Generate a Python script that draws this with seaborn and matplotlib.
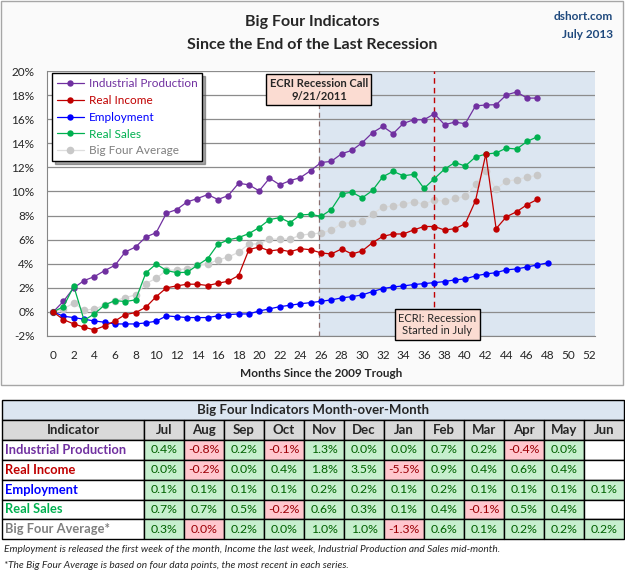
import numpy as np
import pandas as pd
import seaborn as sns
import matplotlib.pyplot as plt
from matplotlib.patches import Rectangle

# months since the June 2009 trough
months = list(range(49))

industrial = [0, 0.89, 2.0, 2.6, 2.93, 3.43, 3.87, 4.98, 5.39, 6.22, 6.58, 8.2, 8.5, 9.13, 9.41, 9.74,
              9.33, 9.66, 10.68, 10.55, 10.05, 11.1, 10.55, 10.9, 11.15, 11.73, 12.4, 12.5, 13.13, 13.41,
              14.05, 14.88, 15.4, 14.8, 15.65, 15.95, 15.95, 16.45, 15.54, 15.76, 15.62, 17.1, 17.18,
              17.2, 18.02, 18.26, 17.75, 17.75]
income = [0, -0.64, -1.0, -1.27, -1.49, -1.16, -0.75, -0.22, -0.06, 0.39, 1.27, 2.0, 2.16, 2.3, 2.3, 2.19,
          2.38, 2.55, 3.02, 5.17, 5.39, 5.06, 5.17, 5.0, 5.25, 5.16, 4.9, 4.81, 5.23, 4.81, 5.06, 5.75,
          6.27, 6.47, 6.47, 6.81, 7.09, 7.09, 6.8, 6.91, 7.32, 9.23, 13.1, 6.91, 7.9, 8.32, 8.9, 9.34]
employment = [0, -0.36, -0.47, -0.61, -0.75, -0.86, -1.0, -1.0, -1.0, -0.91, -0.77, -0.33, -0.4, -0.47,
              -0.47, -0.47, -0.33, -0.22, -0.17, -0.17, 0.08, 0.25, 0.44, 0.55, 0.68, 0.77, 0.88, 1.0,
              1.16, 1.27, 1.41, 1.69, 1.94, 2.07, 2.16, 2.27, 2.35, 2.43, 2.52, 2.66, 2.74, 2.99, 3.15,
              3.26, 3.49, 3.57, 3.73, 3.9, 4.07]
sales = [0, 0.44, 2.13, -0.69, -0.17, 0.58, 0.94, 0.86, 1.0, 3.24, 3.98, 3.43, 3.26, 3.29, 3.87, 4.43,
         5.62, 5.98, 6.17, 6.5, 7.0, 7.66, 7.83, 7.41, 8.05, 8.1, 7.93, 8.5, 9.8, 9.94, 9.47, 10.08,
         11.22, 11.67, 11.3, 11.42, 10.25, 11.06, 11.86, 12.4, 12.11, 12.86, 13.1, 13.2, 13.6, 13.52,
         14.15, 14.54]
average = [0, 0.25, 0.75, 0.13, 0.25, 0.55, 0.91, 1.19, 1.41, 2.35, 2.79, 3.46, 3.48, 3.6, 3.87, 3.98,
           4.31, 4.56, 4.95, 5.63, 5.65, 6.04, 6.04, 6.04, 6.37, 6.47, 6.55, 6.78, 7.33, 7.42, 7.53, 8.1,
           8.72, 8.78, 8.94, 9.14, 8.94, 9.28, 9.2, 9.42, 9.59, 10.61, 11.69, 10.19, 10.86, 10.97,
           11.19, 11.33]

ecri_call = 25.8
ecri_start = 37

# month-over-month table
tbl_months = ["Jul", "Aug", "Sep", "Oct", "Nov", "Dec", "Jan", "Feb", "Mar", "Apr", "May", "Jun"]
mom_industrial = [0.4, -0.8, 0.2, -0.1, 1.3, 0.0, 0.0, 0.7, 0.2, -0.4, 0.0, None]
mom_income = [0.0, -0.2, 0.0, 0.4, 1.8, 3.5, -5.5, 0.9, 0.4, 0.6, 0.4, None]
mom_employment = [0.1, 0.1, 0.1, 0.1, 0.2, 0.2, 0.1, 0.2, 0.1, 0.1, 0.1, 0.1]
mom_sales = [0.7, 0.7, 0.5, -0.2, 0.6, 0.3, 0.1, 0.4, -0.1, 0.5, 0.4, None]
mom_average = [0.3, -0.0, 0.2, 0.0, 1.0, 1.0, -1.3, 0.6, 0.1, 0.2, 0.2, 0.2]

purple, red, blue, green, grey = '#7030a0', '#c00000', '#0000ff', '#00b050', '#c8c8c8'

sns.set_style("white")
plt.rcParams['font.family'] = ['Lato', 'DejaVu Sans']

fig = plt.figure(figsize=(6.25, 5.72), dpi=100)
bg = fig.add_axes([0, 0, 1, 1])
bg.set_xlim(0, 625)
bg.set_ylim(572, 0)
bg.axis('off')
bg.add_patch(Rectangle((1, 1), 622, 384, facecolor='#fafafa', edgecolor='#a6a6a6', lw=1))

bg.text(312.5, 22, "Big Four Indicators", ha='center', va='center', fontsize=11.5, weight='bold')
bg.text(312.5, 45, "Since the End of the Last Recession", ha='center', va='center', fontsize=11.5, weight='bold')
bg.text(613, 17, "dshort.com", ha='right', va='center', fontsize=8.5, weight='bold', color='#1f497d')
bg.text(613, 34, "July 2013", ha='right', va='center', fontsize=8.5, weight='bold', color='#1f497d')

ax = fig.add_axes([47/625, 1-336/572, 548/625, 265/572])
ax.set_facecolor('white')
ax.axvspan(ecri_call, 52.6, color='#dce6f1', zorder=0, lw=0)

series = [
    ("Big Four Average", average, grey, '#dedede', 5.5, 1),
    ("Industrial Production", industrial, purple, purple, 4.6, 2),
    ("Employment", employment, blue, blue, 4.6, 3),
    ("Real Sales", sales, green, green, 4.6, 4),
    ("Real Income", income, red, red, 4.6, 5),
]
for name, vals, mc, lc, ms, z in series:
    sns.lineplot(x=months[:len(vals)], y=vals, color=lc, marker='o', markersize=ms,
                 markerfacecolor=mc, markeredgewidth=0, linewidth=0.9, label=name, ax=ax, zorder=z)

ax.axvline(ecri_call, color='#8a6d6d', ls=(0, (4, 3)), lw=0.9, zorder=1)
ax.axvline(ecri_start, color=red, ls=(0, (4, 3)), lw=1.0, zorder=1)

ax.set_xlim(-0.6, 52.6)
ax.set_ylim(-2, 20)
ax.set_xticks(range(0, 53, 2))
ax.set_yticks(range(-2, 21, 2))
ax.set_yticklabels([f"{v}%" for v in range(-2, 21, 2)])
ax.tick_params(axis='both', length=0, labelsize=8.5)
ax.tick_params(axis='y', pad=9)
ax.tick_params(axis='x', pad=10)
ax.yaxis.grid(True, color='#8c8c8c', lw=0.9)
ax.set_axisbelow(True)
for s in ['top', 'right']:
    ax.spines[s].set_visible(False)
for s in ['left', 'bottom']:
    ax.spines[s].set_color('#868686')
ax.set_xlabel("Months Since the 2009 Trough", fontsize=8.5, weight='bold', labelpad=5)
ax.set_ylabel("")

handles, labels = ax.get_legend_handles_labels()
order = ["Industrial Production", "Real Income", "Employment", "Real Sales", "Big Four Average"]
lcolors = [purple, red, blue, green, '#7f7f7f']
hs = [handles[labels.index(o)] for o in order]
leg = ax.legend(hs, order, loc='upper left', bbox_to_anchor=(0.009, 0.992), borderaxespad=0,
                frameon=True, fancybox=False, shadow=True, framealpha=1, edgecolor='black',
                fontsize=8.5, labelcolor=lcolors, handlelength=2.3, labelspacing=0.5,
                borderpad=0.4, handletextpad=0.4)
leg.get_frame().set_linewidth(1.0)
leg.set_zorder(10)

ax.text(ecri_call, 18.45, "ECRI Recession Call\n9/21/2011", ha='center', va='center', fontsize=8,
        weight='bold', bbox=dict(boxstyle='square,pad=0.3', fc='#fbdcd2', ec='black', lw=1), zorder=8)
ax.text(37.3, -1.05, "ECRI: Recession\nStarted in July", ha='center', va='center', fontsize=8,
        bbox=dict(boxstyle='square,pad=0.3', fc='#fbdcd2', ec='black', lw=1), zorder=8, clip_on=False)

# table
left, ind_w, col_w, top, rh = 2, 142, 40, 400, 19.9
total_w = ind_w + col_w * len(tbl_months)
bg.add_patch(Rectangle((left, top), total_w, rh, fc='#dce6f1', ec='black', lw=1))
bg.text(left + total_w / 2, top + rh / 2, "Big Four Indicators Month-over-Month", ha='center',
        va='center', fontsize=9.5, weight='bold')
y = top + rh
bg.add_patch(Rectangle((left, y), ind_w, rh, fc='#d9d9d9', ec='black', lw=1))
bg.text(left + ind_w / 2, y + rh / 2, "Indicator", ha='center', va='center', fontsize=9.5, weight='bold')
for j, m in enumerate(tbl_months):
    x = left + ind_w + j * col_w
    bg.add_patch(Rectangle((x, y), col_w, rh, fc='#d9d9d9', ec='black', lw=1))
    bg.text(x + col_w / 2, y + rh / 2, m, ha='center', va='center', fontsize=9.5, weight='bold')

rows = [("Industrial Production", mom_industrial, purple),
        ("Real Income", mom_income, red),
        ("Employment", mom_employment, blue),
        ("Real Sales", mom_sales, green),
        ("Big Four Average*", mom_average, '#7f7f7f')]
for i, (name, vals, c) in enumerate(rows):
    y = top + rh * (2 + i)
    bg.add_patch(Rectangle((left, y), ind_w, rh, fc='white', ec='black', lw=1))
    bg.text(left + 3, y + rh / 2, name, ha='left', va='center', fontsize=9.3, weight='bold', color=c)
    for j, v in enumerate(vals):
        x = left + ind_w + j * col_w
        if v is None:
            bg.add_patch(Rectangle((x, y), col_w, rh, fc='white', ec='black', lw=1))
            continue
        neg = bool(np.signbit(v))
        bg.add_patch(Rectangle((x, y), col_w, rh, fc='#ffc7ce' if neg else '#c6efce', ec='black', lw=1))
        bg.text(x + col_w / 2, y + rh / 2, f"{v + 0.0:.1f}%", ha='center', va='center', fontsize=8.8,
                color='#9c0006' if neg else '#006100')

bg.text(4, 549, "Employment is released the first week of the month, Income the last week, "
        "Industrial Production and Sales mid-month.", ha='left', va='center', fontsize=7.3, style='italic')
bg.text(4, 565, "*The Big Four Average is based on four data points, the most recent in each series.",
        ha='left', va='center', fontsize=7.3, style='italic')

fig.savefig("out.png", dpi=100)
